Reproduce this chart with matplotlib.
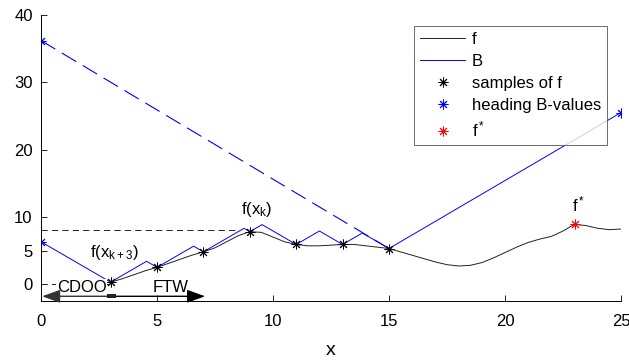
import matplotlib
matplotlib.use("Agg")
import matplotlib.pyplot as plt
from matplotlib.patches import Rectangle

plt.rcParams['font.family'] = ['Liberation Sans', 'DejaVu Sans']
plt.rcParams['lines.scale_dashes'] = False
plt.rcParams['mathtext.fontset'] = 'custom'
plt.rcParams['mathtext.rm'] = 'Liberation Sans'
plt.rcParams['mathtext.it'] = 'Liberation Sans'

# ---- data ----
f_x = [3, 3.5, 4, 4.5, 5, 5.5, 6, 6.5, 7, 7.5, 8, 8.5, 9, 9.5, 10, 10.5, 11, 11.5,
       12, 12.5, 13, 13.5, 14, 14.5, 15, 15.5, 16, 16.5, 17, 17.5, 18, 18.5, 19,
       19.5, 20, 20.5, 21, 21.5, 22, 22.5, 23, 23.5, 24, 24.5, 25]
f_y = [0.3, 0.8, 1.4, 2.0, 2.5, 3.1, 3.7, 4.3, 4.8, 5.4, 6.3, 7.2, 7.8, 7.7, 7.0,
       6.3, 5.9, 5.7, 5.7, 5.8, 5.9, 5.9, 5.7, 5.5, 5.3, 4.8, 4.3, 3.8, 3.3, 2.9,
       2.7, 2.8, 3.2, 3.9, 4.7, 5.5, 6.2, 6.7, 7.1, 7.9, 8.9, 8.7, 8.3, 8.1, 8.2]

B_x = [0, 3, 4.55, 5, 6.58, 7, 8.75, 9, 9.53, 11, 12, 13, 13.85, 15, 25]
B_y = [6.3, 0.3, 3.4, 2.5, 5.65, 4.8, 8.3, 7.8, 8.85, 5.9, 7.9, 5.9, 7.6, 5.3, 25.5]

sample_x = [3, 5, 7, 9, 11, 13, 15]
sample_y = [0.3, 2.5, 4.8, 7.8, 5.9, 5.9, 5.3]

head_x = [0, 0, 25]
head_y = [6.3, 36.2, 25.5]

dashB_x = [0, 15]
dashB_y = [36.2, 5.3]

fstar_x = [23]
fstar_y = [8.9]

level_k_x = [0, 8.35]
level_k_y = [8.0, 8.0]
level_k3_x = [0, 3]
level_k3_y = [0.0, 0.0]

xticks = [0, 5, 10, 15, 20, 25]
yticks = [0, 5, 10, 20, 30, 40]

# ---- figure ----
fig = plt.figure(figsize=(6.29, 3.62), dpi=100)
ax = fig.add_axes([41/629, 1 - 301/362, 580/629, 286/362])

star = (8, 2, 0)
fs = 12

ax.plot(level_k_x, level_k_y, color='#222222', lw=0.7, ls=(0, (4.5, 3)))
ax.plot(level_k3_x, level_k3_y, color='#222222', lw=0.7, ls=(0, (4.5, 3)))
ax.plot(dashB_x, dashB_y, color='blue', lw=0.8, ls=(0, (12, 5.5)))

lf, = ax.plot(f_x, f_y, color='#222222', lw=0.7, label='f')
lB, = ax.plot(B_x, B_y, color='blue', lw=0.7, label='B')
ls_, = ax.plot(sample_x, sample_y, ls='none', marker=star, ms=7, mew=0.7,
               color='black', label='samples of f')
lh, = ax.plot(head_x, head_y, ls='none', marker=star, ms=7, mew=0.7,
              color='blue', label='heading B-values')
lfs, = ax.plot(fstar_x, fstar_y, ls='none', marker=star, ms=7, mew=0.7,
               color='red', label='f$^*$')

# annotations
ax.text(2.1, 3.97, 'f(x$_{k+3}$)', fontsize=fs, ha='left', va='baseline')
ax.text(8.6, 10.4, 'f(x$_k$)', fontsize=fs, ha='left', va='baseline')
ax.text(22.87, 10.75, 'f$^*$', fontsize=fs, ha='left', va='baseline')

ax.text(1.75, -0.45, 'CDOO', fontsize=fs, ha='center', va='center',
        bbox=dict(facecolor='white', edgecolor='none', pad=0.3))
ax.text(5.58, -0.45, 'FTW', fontsize=fs, ha='center', va='center')

arrow_y = -1.8
ax.annotate('', xy=(0.05, arrow_y), xytext=(3.0, arrow_y),
            arrowprops=dict(arrowstyle='-|>,head_length=1.1,head_width=0.4',
                            color='#333333', lw=1.0, shrinkA=0, shrinkB=0))
ax.annotate('', xy=(7.07, arrow_y), xytext=(3.0, arrow_y),
            arrowprops=dict(arrowstyle='-|>,head_length=1.1,head_width=0.4',
                            color='black', lw=1.0, shrinkA=0, shrinkB=0))
ax.add_patch(Rectangle((2.83, -2.1), 0.4, 0.6, facecolor='#222222',
                       edgecolor='none', zorder=5))

ax.set_xlim(0, 25)
ax.set_ylim(-2.5, 40)
ax.set_xticks(xticks)
ax.set_yticks(yticks)
ax.tick_params(direction='in', length=4, width=0.6, labelsize=fs, pad=9)
ax.tick_params(axis='y', pad=6)
for s in ['top', 'right']:
    ax.spines[s].set_visible(False)
for s in ['left', 'bottom']:
    ax.spines[s].set_linewidth(0.7)
ax.set_xlabel('x', fontsize=14, labelpad=10)

leg = ax.legend(handles=[lf, lB, ls_, lh, lfs], loc='upper right',
                bbox_to_anchor=(0.976, 0.962), fontsize=fs, frameon=True,
                fancybox=False, handlelength=2.7, labelspacing=0.42,
                borderpad=0.35, handletextpad=0.4, borderaxespad=0)
leg.get_frame().set_edgecolor('#444444')
leg.get_frame().set_linewidth(0.7)

fig.savefig('out.png', dpi=100)
